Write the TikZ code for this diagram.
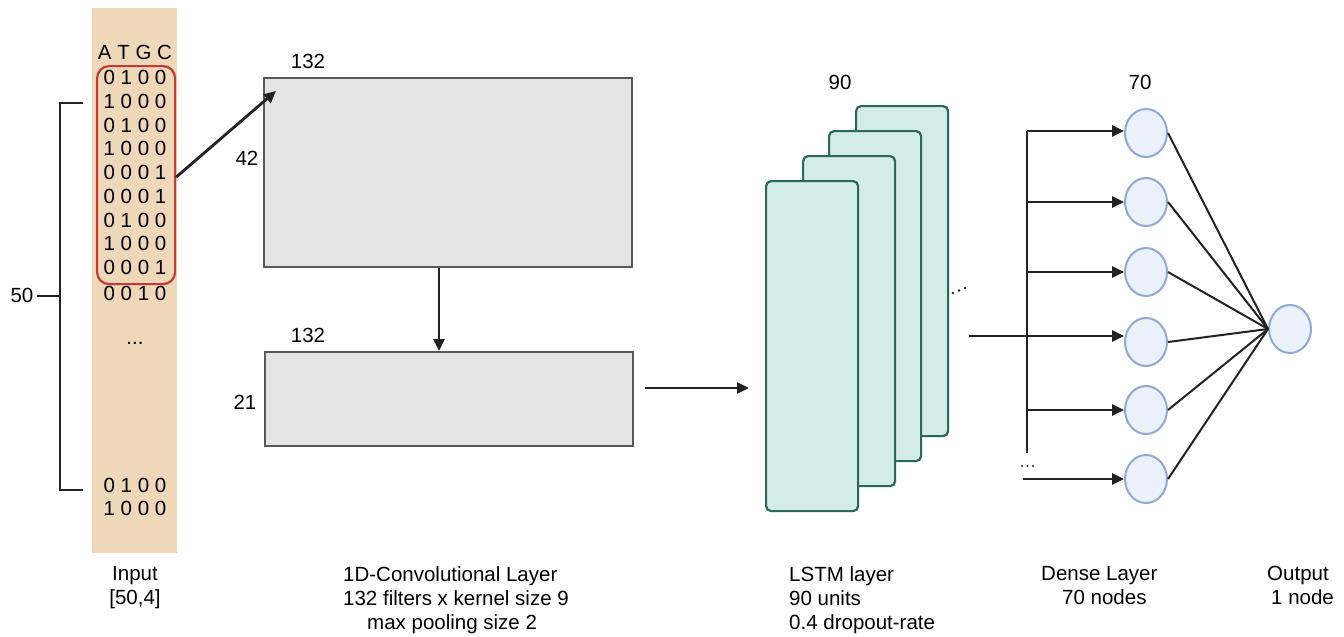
\documentclass[tikz,border=0pt]{standalone}
\usepackage{fontspec}
\setmainfont{Liberation Sans}
\usetikzlibrary{arrows.meta,shapes.geometric}
\definecolor{beige}{RGB}{238,216,185}
\definecolor{redbox}{RGB}{196,58,48}
\definecolor{convfill}{RGB}{228,228,228}
\definecolor{convdraw}{RGB}{88,88,88}
\definecolor{lstmfill}{RGB}{212,236,232}
\definecolor{lstmdraw}{RGB}{42,104,92}
\definecolor{neufill}{RGB}{234,241,251}
\definecolor{neudraw}{RGB}{143,168,216}
\definecolor{ink}{RGB}{34,34,34}
\begin{document}
\begin{tikzpicture}[x=1pt,y=-1pt,
  font=\fontsize{20.5}{24}\selectfont,
  lbl/.style={inner sep=0pt,text=black},
  row/.style={inner sep=0pt,text=black},
  convbox/.style={draw=convdraw,fill=convfill,line width=2.4pt,anchor=north west,inner sep=0pt},
  lstmbox/.style={draw=lstmdraw,fill=lstmfill,line width=2.2pt,rounded corners=5pt,anchor=north west,inner sep=0pt,minimum width=92pt,minimum height=330pt},
  neuron/.style={draw=neudraw,fill=neufill,line width=2pt,ellipse,minimum width=42pt,minimum height=48pt,inner sep=0pt},
  arr/.style={draw=ink,line width=2.8pt,-{Triangle[length=12pt,width=11pt]}},
  ln/.style={draw=ink,line width=2.8pt},
  thin/.style={draw=ink,line width=2.2pt}]
\useasboundingbox (0,0) rectangle (1344,637);

% input column
\node[fill=beige,anchor=north west,minimum width=85pt,minimum height=545pt,inner sep=0pt] (col) at (92,8) {};
\node[row] (hdr) at (135,52) {A T G C};
\node[row] (r1) at (135,77) {0 1 0 0};
\node[row] (r2) at (135,101) {1 0 0 0};
\node[row] (r3) at (135,125) {0 1 0 0};
\node[row] (r4) at (135,148) {1 0 0 0};
\node[row] (r5) at (135,172) {0 0 0 1};
\node[row] (r6) at (135,196) {0 0 0 1};
\node[row] (r7) at (135,220) {0 1 0 0};
\node[row] (r8) at (135,243) {1 0 0 0};
\node[row] (r9) at (135,267) {0 0 0 1};
\node[row] (r10) at (135,293) {0 0 1 0};
\node[row] (rd) at (135,343) {...};
\node[row] (r11) at (135,485) {0 1 0 0};
\node[row] (r12) at (135,508) {1 0 0 0};
\node[draw=redbox,line width=2.2pt,rounded corners=12pt,anchor=north west,minimum width=78pt,minimum height=218pt,inner sep=0pt] (win) at (96,65) {};

% bracket
\coordinate (bt) at (83,103);
\coordinate (bb) at (83,490);
\node[lbl] (n50) at (22,295) {50};
\draw[thin] (bt) -- (60,103) -- (60,490) -- (bb);
\draw[thin] (37,296) -- (60,296);

% conv layers
\node[convbox,minimum width=368pt,minimum height=189pt] (conv1) at (263,77) {};
\node[convbox,minimum width=368pt,minimum height=94pt] (conv2) at (264,351) {};
\node[lbl] at (308,61) {132};
\node[lbl] at (247,158) {42};
\node[lbl] at (308,335) {132};
\node[lbl] at (245,402) {21};
\coordinate (c1in) at (276,91);
\draw[arr] (win.east) ++(0,-2pt) -- (c1in);
\draw[arr] (conv1.south -| 439,0) -- (conv2.north -| 439,0);

% LSTM
\node[lstmbox] (l4) at (855,105) {};
\node[lstmbox] (l3) at (828,130) {};
\node[lstmbox] (l2) at (802,155) {};
\node[lstmbox] (l1) at (765,180) {};
\node[lbl] at (840,82) {90};
\coordinate (cin) at (645,388);
\coordinate (cend) at (749,388);
\draw[arr] (cin) -- (cend);
\fill[ink] (953,293) circle (1.3pt) (959,290.5) circle (1.3pt) (965,288) circle (1.3pt);

% dense
\node[neuron] (d1) at (1146,133) {};
\node[neuron] (d2) at (1146,202) {};
\node[neuron] (d3) at (1146,272) {};
\node[neuron] (d4) at (1146,342) {};
\node[neuron] (d5) at (1146,410) {};
\node[neuron] (d6) at (1146,479) {};
\node[neuron] (out) at (1290,329) {};
\node[lbl] at (1140,82) {70};
\coordinate (vt) at (1027,131);
\coordinate (vb) at (1027,453);
\coordinate (lout) at (969,336);
\coordinate (dd) at (1023,479);
\draw[ln] (vt) -- (vb);
\draw[arr] (vt) -- (d1.west |- vt);
\draw[arr] (1027,202) -- (d2.west);
\draw[arr] (1027,272) -- (d3.west);
\draw[arr] (lout) -- (d4.west |- lout);
\draw[arr] (1027,410) -- (d5.west);
\draw[arr] (dd) -- (d6.west);
\fill[ink] (1022,466) circle (1.1pt) (1027.5,466) circle (1.1pt) (1033,466) circle (1.1pt);
\foreach \d in {d1,d2,d3,d4,d5,d6} \draw[ink,line width=2pt] (\d.east) -- (out.west);

% captions
\node[lbl,align=center] at (135,588) {Input\\{[50,4]}};
\node[lbl,anchor=north west,align=left] at (343,566) {1D-Convolutional Layer\\132 filters x kernel size 9\\\hspace*{24pt}max pooling size 2};
\node[lbl,anchor=north west,align=left] at (789,566) {LSTM layer\\90 units\\0.4 dropout-rate};
\node[lbl,anchor=north west,align=left] at (1041,566) {Dense Layer\\\hspace*{21pt}70 nodes};
\node[lbl,anchor=north west,align=left] at (1267,566) {Output\\\hspace*{4pt}1 node};
\end{tikzpicture}
\end{document}
